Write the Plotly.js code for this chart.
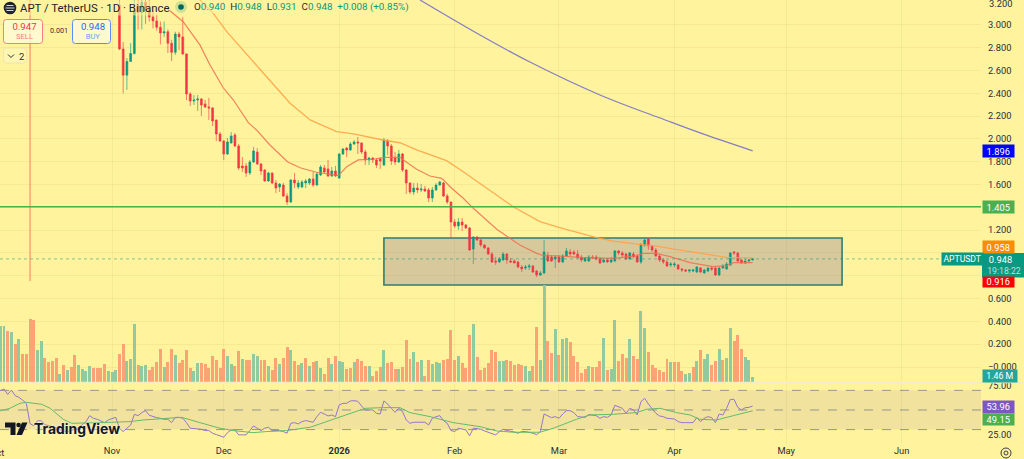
<!DOCTYPE html>
<html>
<head>
<meta charset="utf-8">
<script src="https://cdn.plot.ly/plotly-3.0.1.min.js"></script>
<style>html,body{margin:0;padding:0;background:#fff39d;overflow:hidden}#c{width:1024px;height:459px}</style>
</head>
<body>
<div id="c"></div>
<script>
// ---------- DATA ----------
// daily candles from 2025-11-03 to 2026-04-22
const candleStart = '2025-11-03';
const open = [
3.175,2.79,2.56,2.68,2.75,3.17,3.11,3.20,3.15,3.07,
3.035,2.98,2.93,2.94,2.84,2.76,2.92,2.895,2.746,2.395,
2.333,2.342,2.351,2.307,2.281,2.272,2.167,2.044,1.982,1.868,
1.965,2.035,1.939,1.763,1.763,1.702,1.798,1.886,1.781,1.728,
1.632,1.702,1.614,1.579,1.596,1.50,1.447,1.64,1.579,1.579,
1.614,1.614,1.649,1.596,1.684,1.746,1.737,1.675,1.719,1.658,
1.868,1.921,1.904,1.956,1.974,1.965,1.886,1.816,1.833,1.816,
1.825,1.772,1.982,1.939,1.833,1.798,1.868,1.728,1.614,1.535,
1.57,1.553,1.561,1.553,1.482,1.553,1.596,1.614,1.50,1.447,
1.272,1.237,1.272,1.246,1.219,1.035,1.14,1.114,1.07,1.044,
.991,.93,.921,.939,.991,.93,.93,.921,.877,.868,
.877,.886,.842,.807,.825,.982,.965,.947,.965,.921,
.974,1.009,1.009,.991,.965,.93,.93,.965,.965,.947,
.921,.939,.921,.93,1.018,1.0,.991,.947,.991,.974,
.921,1.07,1.123,1.061,1.026,.974,.939,.921,.895,.895,
.895,.86,.851,.842,.842,.833,.868,.825,.842,.868,
.868,.807,.868,.86,.895,1.009,1.0,.939,.912,.93,.940];
const high = [
3.23,2.85,2.71,2.84,3.23,3.25,3.25,3.26,3.22,3.15,
3.09,3.03,3.03,2.96,2.87,2.94,2.94,3.07,2.75,2.41,
2.386,2.386,2.36,2.342,2.36,2.281,2.17,2.061,1.99,2.009,
2.061,2.053,1.956,1.842,1.789,1.816,1.93,1.921,1.789,1.737,
1.711,1.705,1.64,1.614,1.614,1.526,1.649,1.702,1.64,1.64,
1.649,1.658,1.711,1.711,1.772,1.772,1.816,1.754,1.763,1.877,
1.921,1.93,1.974,1.991,2.018,1.97,1.904,1.842,1.842,1.833,
1.842,2.009,2.0,1.956,1.886,1.904,1.877,1.737,1.62,1.614,
1.614,1.605,1.588,1.57,1.579,1.614,1.632,1.623,1.518,1.45,
1.298,1.307,1.307,1.254,1.228,1.149,1.149,1.123,1.079,1.053,
1.009,.965,.965,1.009,1.0,.956,.947,.93,.895,.895,
.904,.895,.851,.842,1.114,1.009,.982,.982,.982,.991,
1.044,1.035,1.026,1.026,.982,.965,.982,.982,.982,.965,
.956,.956,.965,1.026,1.026,1.018,1.0,1.009,1.009,.991,
1.088,1.132,1.132,1.07,1.044,.991,.956,.939,.921,.921,
.904,.868,.86,.86,.86,.886,.877,.86,.877,.886,
.877,.877,.904,.921,1.009,1.018,1.009,.947,.947,.947,.948];
const low = [
2.78,2.40,2.43,2.68,2.74,2.96,2.96,3.01,3.03,2.97,
2.95,2.83,2.895,2.754,2.684,2.737,2.78,2.737,2.342,2.289,
2.298,2.246,2.202,2.272,2.167,2.114,1.982,1.974,1.816,1.86,
1.96,1.93,1.728,1.711,1.667,1.684,1.789,1.772,1.684,1.623,
1.623,1.605,1.526,1.535,1.491,1.42,1.438,1.57,1.561,1.57,
1.57,1.596,1.579,1.588,1.675,1.702,1.667,1.667,1.667,1.649,
1.86,1.842,1.895,1.947,1.868,1.868,1.772,1.772,1.789,1.746,
1.737,1.763,1.86,1.772,1.772,1.789,1.711,1.518,1.518,1.509,
1.526,1.535,1.535,1.447,1.447,1.544,1.588,1.491,1.43,1.14,
1.219,1.202,1.193,1.21,1.018,.904,1.105,1.053,1.035,.982,
.912,.895,.912,.93,.904,.912,.91,.868,.833,.851,
.851,.825,.789,.798,.816,.921,.921,.868,.912,.912,
.965,.974,.982,.956,.921,.921,.921,.947,.939,.904,
.912,.912,.912,.921,.982,.956,.939,.939,.956,.912,
.904,1.053,1.026,1.009,.965,.921,.904,.877,.877,.877,
.851,.833,.833,.825,.833,.825,.825,.816,.833,.842,
.798,.798,.86,.851,.886,.982,.921,.904,.904,.912,.931];
const close = [
2.79,2.56,2.68,2.75,3.13,3.11,3.20,3.13,3.07,3.035,
2.98,2.93,2.94,2.84,2.76,2.92,2.895,2.746,2.395,2.333,
2.342,2.351,2.298,2.281,2.272,2.158,2.044,1.982,1.868,1.974,
2.026,1.939,1.746,1.746,1.702,1.798,1.895,1.781,1.719,1.632,
1.702,1.614,1.57,1.605,1.50,1.447,1.64,1.614,1.614,1.623,
1.632,1.649,1.596,1.693,1.754,1.711,1.675,1.719,1.675,1.868,
1.912,1.904,1.956,1.974,1.965,1.886,1.816,1.833,1.816,1.772,
1.807,1.991,1.939,1.807,1.798,1.868,1.728,1.614,1.535,1.57,
1.553,1.561,1.544,1.482,1.553,1.596,1.623,1.50,1.447,1.272,
1.237,1.272,1.246,1.219,1.026,1.14,1.114,1.07,1.044,.991,
.921,.921,.947,.991,.939,.921,.912,.877,.86,.877,
.886,.833,.807,.825,1.009,.93,.93,.965,.921,.974,
1.018,.991,.991,.956,.939,.956,.965,.956,.947,.912,
.939,.921,.939,1.018,1.0,.982,.947,1.0,.965,.921,
1.07,1.114,1.061,1.026,.974,.939,.921,.886,.904,.904,
.86,.851,.842,.851,.851,.877,.833,.851,.868,.86,
.807,.868,.886,.904,1.0,1.0,.93,.912,.93,.939,.948];
// the 10 October crash candle, whose body lies above the visible range
const crashDate = ['2025-10-10'];
const crashOpen = [4.9], crashHigh = [5.2], crashLow = [0.754], crashClose = [3.6];

// volume in millions from 2025-10-02 to 2026-04-22; G = up day, O = down day
const volumeStart = '2025-10-02';
const volume = [
18.0,17.8,16.3,16.0,12.1,13.9,9.1,8.9,20.1,19.7,
10.4,13.1,7.6,6.3,6.8,7.8,2.6,5.3,3.9,4.8,
8.5,5.5,4.3,3.5,5.2,4.6,4.6,4.6,5.9,3.4,
3.2,3.9,9.1,12.3,6.6,7.3,18.7,5.3,5.1,5.5,
3.9,4.7,6.4,10.5,4.8,6.4,10.5,8.6,6.0,6.9,
10.3,4.4,3.4,6.1,6.1,5.9,4.4,8.3,6.9,4.5,
10.5,8.2,5.9,5.0,9.9,7.4,6.9,6.9,8.9,8.3,
7.1,6.9,5.1,3.9,7.8,5.9,7.8,11.2,10.4,6.7,
5.3,6.2,7.8,5.0,6.3,6.7,4.4,2.6,7.8,5.9,
8.3,6.6,6.3,4.1,4.5,6.3,7.3,6.6,5.1,5.2,
2.0,3.5,4.8,10.1,6.1,6.4,4.3,4.3,
4.7,13.6,7.3,9.5,6.3,6.9,2.0,6.9,5.7,6.4,
6.0,6.9,7.5,16.8,6.9,8.3,6.0,4.4,14.9,18.5,
7.9,3.7,4.4,6.2,10.1,9.7,6.6,6.6,6.9,6.6,
5.5,5.9,5.3,5.1,3.5,5.1,17.5,6.9,31.0,13.0,
9.4,17.1,8.5,13.8,14.0,12.7,8.3,6.5,2.9,4.1,
5.0,4.7,4.7,6.6,14.0,3.8,4.1,20.0,6.6,9.1,
7.6,13.7,8.2,7.4,22.6,17.3,9.5,5.3,4.6,3.9,
3.3,7.3,6.3,6.5,6.3,3.4,2.6,2.8,4.7,6.8,
10.1,7.3,9.1,5.3,6.6,10.7,6.9,7.7,17.4,13.0,
14.9,10.7,8.1,6.9,1.46];
const volumeSide = (
"GGOGOGOOOO"+"GGOOOOGOGO"+"OGGGGOOOOG"+"GGOOGGGOGG"+"OOOOGOOGOO"+"OOGGOOOOOO"+
"OGGOOGOOGG"+"OOGOOGOOGO"+"OGOGOGGOOG"+"OGGOOGOOOG"+"OOOGOOOG"+
"OOOGOGOOGG"+"GOOOOGOOOG"+"OOOOOOGGOO"+"OOOGGOOGGO"+"OGOGGOOOOO"+
"GOOOGOGGOO"+"OGOOGGOOOO"+"OOGOOOGGOG"+"OGGOOGOGGO"+"OOGGG").split('');

// moving averages: day number counted from 2025-11-01, and price
const fastDay = [14.7,19.1,23.6,26.3,29.9,32.6,36.6,38.8,42.4,47.1,50.5,54.9,60.8,63,66.1,70,73.5,77.3,78.9,81.8,85.4,88.5,91.2,94.3,97,100.1,103.3,106.4,109.5,114,115.8,119.4,125.6,134.6,140.8,142.6,146.2,149.8,155.2,161.4,165,166.8,169.5,172];
const fastVal = [3.146,3.029,2.825,2.649,2.447,2.342,2.143,2.079,1.947,1.801,1.748,1.708,1.678,1.757,1.816,1.822,1.839,1.839,1.801,1.734,1.675,1.655,1.568,1.48,1.392,1.304,1.208,1.138,1.07,.997,.976,.974,.962,.953,.974,.997,.997,.968,.915,.88,.889,.915,.915,.916];
const midDay = [23.6,27.2,30.8,36.2,41.5,47.8,53.2,60.3,64.8,72.8,77.3,81.8,89.8,94.3,100.6,107.7,114.9,120.2,130.1,134.6,141.7,146.2,152.5,157.9,165,172];
const midVal = [3.219,3.102,2.941,2.737,2.546,2.313,2.167,2.064,2.044,1.991,1.967,1.904,1.81,1.713,1.568,1.406,1.275,1.222,1.134,1.105,1.076,1.061,1.026,.997,.962,.958];
const slowDay = [82.7,98.8,112.2,131,148.5,157.9,172];
const slowVal = [3.219,2.912,2.675,2.386,2.167,2.053,1.896];

// RSI daily from 2025-10-02 to 2026-04-22
const rsiStart = '2025-10-02';
const rsi = [
69.7,71.4,65.9,70.3,64.6,62.9,60,56.8,36,34,39,39,35,34,33,32,29.7,29,28,29,30,32,35,38,44.2,41.5,40.5,39.2,37.1,39.8,
41.5,42.5,31.4,28,31.4,34.7,45.6,44.2,47.3,49.3,44.6,43.2,42.2,41.5,40.5,40.5,37.1,42.5,42.5,41.5,37.1,31.4,30.7,30.7,30.3,29,29,26.3,24.9,23.6,
22.2,26.9,29.7,29.7,24.6,24.6,24.6,29,33.7,31.4,29,31.4,32.4,29,29,29,28,26.3,36.4,37.1,35.8,38.1,39.2,38.5,37.5,43.2,47.6,45.9,43.9,44.9,
43.2,55.1,56.8,56.8,59.2,59.5,58.8,54.1,50,50,50,46.6,45.9,59.2,56.1,51.7,47.6,51.7,
48.3,39.8,36.4,37.5,37.5,37.5,37.5,34.7,41.5,43.2,44.2,39.2,36.4,29,28,31.4,30.7,29.7,23.6,31.4,31,30.3,28.6,27.3,25.6,24.6,28,30.3,29,28.6,
27.6,26.3,28,28,27.3,26.3,24.9,28,45.9,43.9,42.2,43.2,41.5,45.9,49.3,49.3,47.3,43.2,42.5,42.5,45.3,44.6,44.2,41.5,43.2,42.5,44.9,54.7,53.4,51.7,
46.6,51.7,50,44.9,58.5,61.9,56.1,51.7,46.6,43.9,43.2,41.5,41.5,40.8,38.1,37.1,37.1,37.1,37.1,42.2,38.1,41.5,43.2,42.2,37.1,45.9,44.9,51.7,60.8,60.8,
52.7,50,52.4,52.7,53.96];
const rsiMaDay = [-30,-27.4,-24.7,-23,-18.9,-16.6,-13.1,-10.8,-3.2,4.8,8.4,14.7,18.7,23.6,29,32.6,37.9,41.5,46.9,53.2,59.4,64.8,68,72.8,77.3,80,85.4,91.6,98.8,103.3,107.7,114.9,118.5,124.7,128.3,134.6,140.8,143.5,147.1,151.6,155.2,157.8,162.3,166.8,172];
const rsiMaVal = [49,51.7,56.8,57.8,55.8,51.7,40.5,36.4,37.1,38.1,39.8,41.5,42.5,37.1,31.4,29,26.9,28,29,32.4,40.5,48.3,51.7,52.4,52.4,47.3,43.2,37.1,33,28.6,27.3,27.3,31.4,40.5,44.9,45.6,47.3,50.7,51.7,47.3,44.9,40.5,39.8,44.2,49.15];

const priceTicks = [3.0,2.8,2.6,2.4,2.2,2.0,1.8,1.6,1.4,1.2,1.0,0.8,0.6,0.4,0.2,0];
const hiddenPriceLabels = [1.0, 0.8]; // sit behind the price tags in the reference
const monthTickDates = ['2025-11-01','2025-12-01','2026-01-01','2026-02-01','2026-03-01','2026-04-01','2026-05-01','2026-06-01'];
const monthTickText = ['Nov','Dec','<b>2026</b>','Feb','Mar','Apr','May','Jun'];
const supportLevel = 1.405;
const lastPrice = 0.948;
const zoneTop = 1.132, zoneBottom = 0.719, zoneFrom = '2026-01-13', zoneTo = '2026-05-16';

// ---------- HELPERS ----------
const DAY = 86400000;
const seq = (start, n) => { const t0 = Date.parse(start + 'T00:00:00Z'); return Array.from({length:n}, (_,i) => new Date(t0 + i*DAY).toISOString().slice(0,10)); };
const fromDay = d => new Date(Date.UTC(2025,10,1) + d*DAY).toISOString().replace('T',' ').slice(0,16);

const PW = 981, PH = 444;
const AXF = 9.3;
const px = x => x/PW, py = y => 1 - y/PH;
const rrect = (x0,y0,x1,y1,r) => `M${px(x0+r)},${py(y0)} L${px(x1-r)},${py(y0)} Q${px(x1)},${py(y0)} ${px(x1)},${py(y0+r)} L${px(x1)},${py(y1-r)} Q${px(x1)},${py(y1)} ${px(x1-r)},${py(y1)} L${px(x0+r)},${py(y1)} Q${px(x0)},${py(y1)} ${px(x0)},${py(y1-r)} L${px(x0)},${py(y0+r)} Q${px(x0)},${py(y0)} ${px(x0+r)},${py(y0)} Z`;
const paperShape = (path, fill, line, w) => ({type:'path', xref:'paper', yref:'paper', path, fillcolor:fill, line:{color:line, width:w||0}, layer:'above'});
const circle = (cx,cy,r,fill,line,w) => ({type:'circle', xref:'paper', yref:'paper', x0:px(cx-r), x1:px(cx+r), y0:py(cy+r), y1:py(cy-r), fillcolor:fill, line:{color:line||'rgba(0,0,0,0)', width:w||0}, layer:'above'});
const text = (t,x,y,opt) => Object.assign({text:t, xref:'paper', yref:'paper', x:px(x), y:py(y), xanchor:'left', yanchor:'middle', showarrow:false, borderpad:0, font:{family:'Roboto', size:AXF, color:'#2a2e39'}}, opt||{});
const tag = (t,x0,y0,x1,y1,bg,c,size) => ({text:t, xref:'paper', yref:'paper', x:px(x0), y:py((y0+y1)/2), xanchor:'left', yanchor:'middle', width:x1-x0, height:y1-y0, align:'center', valign:'middle', bgcolor:bg, showarrow:false, borderpad:0, font:{family:'Roboto', size:size||AXF, color:c||'#fff'}});

// ---------- TRACES ----------
const GREEN='#089981', RED='#f23645';
const cStyle = {
  type:'candlestick', xaxis:'x', yaxis:'y2', whiskerwidth:0, showlegend:false, hoverinfo:'skip',
  width: 0.74*DAY,
  increasing:{line:{color:'rgba(8,153,129,0.62)',width:1}, fillcolor:GREEN},
  decreasing:{line:{color:'rgba(242,54,69,0.62)',width:1}, fillcolor:RED}
};
const volDates = seq(volumeStart, volume.length);
const traces = [
  {type:'bar', xaxis:'x', yaxis:'y', x:volDates, y:volume, width:0.8*DAY, hoverinfo:'skip', showlegend:false,
   marker:{color:volumeSide.map(s => s==='G' ? '#8fcb9f' : '#fba374'), line:{width:0}}},
  Object.assign({}, cStyle, {x:crashDate, open:crashOpen, high:crashHigh, low:crashLow, close:crashClose}),
  Object.assign({}, cStyle, {x:seq(candleStart, open.length), open, high, low, close}),
  {type:'scatter', mode:'lines', xaxis:'x', yaxis:'y2', x:fastDay.map(fromDay), y:fastVal, line:{color:'rgba(240,110,80,0.85)',width:1.2}, hoverinfo:'skip', showlegend:false},
  {type:'scatter', mode:'lines', xaxis:'x', yaxis:'y2', x:midDay.map(fromDay), y:midVal, line:{color:'rgba(255,160,70,0.85)',width:1.3}, hoverinfo:'skip', showlegend:false},
  {type:'scatter', mode:'lines', xaxis:'x', yaxis:'y2', x:slowDay.map(fromDay), y:slowVal, line:{color:'rgba(110,105,205,0.85)',width:1.2, shape:'spline'}, hoverinfo:'skip', showlegend:false},
  {type:'scatter', mode:'lines', xaxis:'x', yaxis:'y3', x:seq(rsiStart, rsi.length), y:rsi, line:{color:'#9575cd',width:1}, hoverinfo:'skip', showlegend:false},
  {type:'scatter', mode:'lines', xaxis:'x', yaxis:'y3', x:rsiMaDay.map(fromDay), y:rsiMaVal, line:{color:'#66bb6a',width:1}, hoverinfo:'skip', showlegend:false}
];

// ---------- SHAPES ----------
const dash = v => ({type:'line', xref:'paper', x0:0, x1:1, yref:'y3', y0:v, y1:v, line:{color:'rgba(120,123,134,0.75)', width:1, dash:'dash'}, layer:'below'});
const shapes = [
  {type:'rect', xref:'paper', x0:0, x1:1, yref:'y3', y0:30, y1:70, fillcolor:'rgba(150,120,170,0.13)', line:{width:0}, layer:'below'},
  dash(70), dash(50), dash(30),
  {type:'rect', xref:'x', x0:zoneFrom, x1:zoneTo, yref:'y2', y0:zoneBottom, y1:zoneTop, fillcolor:'#d8c99c', line:{color:'#2f7d72', width:1.6}, layer:'below'},
  {type:'line', xref:'paper', x0:0, x1:1, yref:'y2', y0:supportLevel, y1:supportLevel, line:{color:'#4caf50', width:1.4}, layer:'above'},
  {type:'line', xref:'paper', x0:0, x1:1, yref:'y2', y0:lastPrice, y1:lastPrice, line:{color:'rgba(8,153,129,0.5)', width:1, dash:'dot'}, layer:'above'},
  {type:'line', xref:'paper', yref:'paper', x0:0, x1:1024/981, y0:py(382.5), y1:py(382.5), line:{color:'#f3edc4', width:1.5}, layer:'above'},
  // last-price box behind its two text lines
  paperShape(rrect(982,253,1024,277.5,0.1),GREEN,GREEN,0),
  // header symbol
  circle(10,8,6.3,'#1f2430'),
  {type:'line', xref:'paper', yref:'paper', x0:px(6.5), x1:px(13.5), y0:py(5.5), y1:py(5.5), line:{color:'#d8d8d8',width:1}, layer:'above'},
  {type:'line', xref:'paper', yref:'paper', x0:px(5.5), x1:px(14.5), y0:py(8), y1:py(8), line:{color:'#d8d8d8',width:1}, layer:'above'},
  {type:'line', xref:'paper', yref:'paper', x0:px(6.5), x1:px(13.5), y0:py(10.5), y1:py(10.5), line:{color:'#d8d8d8',width:1}, layer:'above'},
  // market-open dot
  circle(181,7,6,'rgba(8,153,129,0.2)'),
  circle(181,7,2.8,'#00665a'),
  // sell / buy / collapse boxes
  paperShape(rrect(3.5,19.5,42.5,43.5,3),'rgba(255,250,215,0.85)','#f77c80',1),
  paperShape(rrect(72.5,19.5,110.5,43.5,3),'rgba(255,250,215,0.85)','#5b8cff',1),
  paperShape(rrect(3.5,48,26.5,63,3),'rgba(255,246,180,0.8)','#ece4b4',1),
  paperShape(`M${px(8)},${py(54.5)} L${px(11)},${py(57.5)} L${px(14)},${py(54.5)}`,'rgba(0,0,0,0)','#2a2e39',1),
  // TradingView mark
  paperShape(`M${px(5)},${py(422.5)} L${px(15.5)},${py(422.5)} L${px(15.5)},${py(435)} L${px(10.5)},${py(435)} L${px(10.5)},${py(427.5)} L${px(5)},${py(427.5)} Z`,'#131722','#131722',0),
  circle(18.6,425,2.3,'#131722'),
  paperShape(`M${px(22)},${py(422.5)} L${px(27.5)},${py(422.5)} L${px(22)},${py(435)} L${px(16.5)},${py(435)} Z`,'#131722','#131722',0),
  // settings gear
  circle(1006,453,5,'rgba(0,0,0,0)','#3a3e49',1),
  circle(1006,453,2,'rgba(0,0,0,0)','#3a3e49',1)
];

// ---------- ANNOTATIONS ----------
const t1 = c => `<span style="color:${c}">`;
const legendVals = t1('#2a2e39')+'O</span>'+t1(GREEN)+'0.940</span>  '+t1('#2a2e39')+'H</span>'+t1(GREEN)+'0.948</span>  '+t1('#2a2e39')+'L</span>'+t1(GREEN)+'0.931</span>  '+t1('#2a2e39')+'C</span>'+t1(GREEN)+'0.948</span>  '+t1(GREEN)+'+0.008 (+0.85%)</span>';
const annotations = [
  text('Oct',-3.5,453,{xanchor:'center'}),
  text('3.200',988,3),
  text('APT / TetherUS · 1D · Binance',19,8,{font:{family:'Roboto',size:11.4,color:'#1f2430'}, bgcolor:'rgba(255,243,157,0.55)'}),
  text(legendVals,193,7.5,{font:{family:'Roboto',size:9.8,color:GREEN}, bgcolor:'rgba(255,243,157,0.55)'}),
  tag('0.947',3.5,20,42.5,33,'rgba(0,0,0,0)',RED,9.6),
  tag('SELL',3.5,31,42.5,42,'rgba(0,0,0,0)','#f77c80',7.6),
  tag('0.948',72.5,20,110.5,33,'rgba(0,0,0,0)','#2962ff',9.6),
  tag('BUY',72.5,31,110.5,42,'rgba(0,0,0,0)','#6f9bff',7.6),
  text('0.001',48.5,31,{font:{family:'Roboto',size:7.2,color:'#2a2e39'}}),
  text('2',17.5,56,{font:{family:'Roboto',size:9.5,color:'#2a2e39'}}),
  text('TradingView',33,428.5,{font:{family:'Inter',size:13.9,weight:700,color:'#131722',shadow:'0 0 3px rgba(255,255,255,0.9)'}}),
  tag('1.896',982,145,1012.5,157,'#0000ff'),
  tag('1.405',982,201,1012.5,213,'#4caf50'),
  tag('0.958',982,240.5,1012.5,252.5,'#ff8c00'),
  tag('APTUSDT',940.5,253,981,265,GREEN,'#fff',8.6),
  tag('0.916',982,277.5,1012.5,287,'#ff0000'),
  tag('0.948',984,253,1015,265.2,'rgba(0,0,0,0)','#fff'),
  tag('19:18:22',982,265,1024,277.5,'rgba(0,0,0,0)','rgba(255,255,255,0.72)',8.7),
  tag('1.46 M',982,370,1015.5,382,'#26a69a','#fff',8.8),
  tag('53.96',982,401,1012.5,412.7,'#7e57c2'),
  tag('49.15',982,413.7,1012.5,425,'#4caf50')
];

// ---------- LAYOUT ----------
const GRID = 'rgba(150,130,60,0.09)';
const priceDomain = [(PH-382)/PH, 1];
const layout = {
  width:1024, height:459,
  margin:{l:0, r:43, t:0, b:15, pad:0, autoexpand:false},
  paper_bgcolor:'#fff39d', plot_bgcolor:'#fff39d',
  showlegend:false, hovermode:false, dragmode:false, bargap:0,
  font:{family:'Roboto', size:AXF, color:'#2a2e39'},
  xaxis:{type:'date', anchor:'y3', range:[fromDay(-30.07), fromDay(233.3)], tickmode:'array', tickvals:monthTickDates, ticktext:monthTickText,
         showgrid:true, gridcolor:GRID, gridwidth:1, zeroline:false, showline:false, ticks:'', ticklen:0, rangeslider:{visible:false}, fixedrange:true,
         tickfont:{family:'Roboto', size:AXF, color:'#2a2e39'}},
  yaxis:{domain:priceDomain, range:[0, 122.24], visible:false, showgrid:false, zeroline:false, fixedrange:true},
  yaxis2:{domain:priceDomain, overlaying:'y', side:'right', anchor:'x', range:[-0.1316, 3.219], tickmode:'array', tickvals:priceTicks,
          ticktext:priceTicks.map(v => hiddenPriceLabels.includes(v) ? '' : (v===0 ? '−0.000' : v.toFixed(3))), showgrid:true, gridcolor:GRID, zeroline:false, showline:false, ticks:'', ticklabelstandoff:6, fixedrange:true,
          tickfont:{family:'Roboto', size:AXF, color:'#2a2e39'}},
  yaxis3:{domain:[0, 60/PH], side:'right', anchor:'x', range:[15.3, 76.5], tickmode:'array', tickvals:[25,75], ticktext:['25.00','75.00'], showgrid:false, zeroline:false, showline:false, ticks:'', ticklabelstandoff:6, fixedrange:true,
          tickfont:{family:'Roboto', size:AXF, color:'#2a2e39'}},
  shapes, annotations
};
Plotly.newPlot('c', traces, layout, {displayModeBar:false, staticPlot:true, responsive:false});
</script>
</body>
</html>
